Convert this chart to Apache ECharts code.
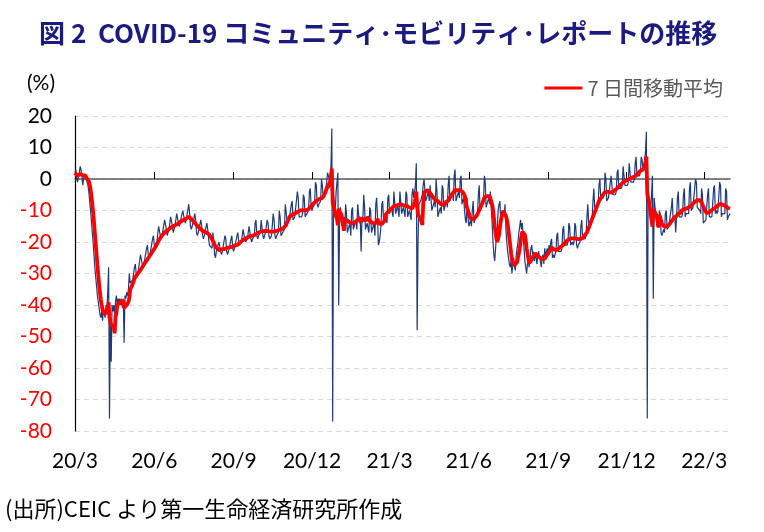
<!DOCTYPE html>
<html>
<head>
<meta charset="utf-8">
<script src="https://cdn.jsdelivr.net/npm/echarts@6/dist/echarts.min.js"></script>
<style>
  html, body { margin: 0; background: #fff; }
  #chart-main { width: 764px; height: 532px; }
</style>
</head>
<body>
<div id="chart-main"></div>
<script>
// 日次の値（2020/3/1 から 1 日ずつ、1 行 = 1 週間）
const startDate = '2020-03-01'
const dailyValues = [
  2, 3, 0, -1, 1, 2, 4, 3, 1, -2, 0, 1, 1, 0,
  -1, -2, -4, -7, -10, -13, -17,
  -20, -24, -28, -31, -34, -37, -39,
  -41, -43, -44, -42, -45, -41, -43,
  -44, -40, -42, -36, -28, -76, -44,
  -58, -40, -42, -40, -43, -39, -37,
  -40, -38, -39, -38, -40, -38, -41,
  -38, -52, -37, -38, -36, -37, -35,
  -30, -33, -33, -33, -32, -32, -28,
  -27, -30, -31, -30, -30, -30, -24,
  -24, -27, -28, -27, -27, -27, -22,
  -21, -24, -25, -24, -24, -24, -19,
  -18, -21, -22, -21, -20, -20, -15,
  -15, -18, -19, -18, -18, -18, -13,
  -13, -16, -18, -17, -16, -16, -12,
  -12, -15, -17, -16, -15, -15, -11,
  -11, -14, -15, -14, -14, -14, -10,
  -10, -13, -14, -13, -13, -13, -8,
  -11, -15, -16, -15, -15, -15, -11,
  -13, -17, -18, -17, -17, -17, -13,
  -15, -18, -19, -18, -18, -18, -14,
  -16, -19, -21, -21, -21, -22, -17,
  -20, -24, -25, -23, -23, -23, -20,
  -20, -23, -24, -23, -23, -23, -18,
  -19, -23, -24, -23, -22, -22, -19,
  -18, -22, -23, -22, -22, -22, -18,
  -17, -20, -21, -21, -20, -20, -16,
  -16, -19, -20, -20, -19, -19, -15,
  -15, -19, -20, -19, -19, -18, -14,
  -13, -18, -19, -18, -18, -17, -13,
  -13, -18, -19, -18, -17, -17, -13,
  -14, -18, -19, -19, -18, -18, -11,
  -13, -18, -19, -18, -18, -17, -10,
  -12, -18, -18, -17, -17, -16, -8,
  -8, -13, -14, -13, -12, -12, -8,
  -7, -13, -13, -12, -12, -12, -4,
  -6, -12, -12, -12, -12, -11, -5,
  -6, -12, -12, -11, -11, -10, -4,
  -3, -9, -10, -9, -9, -8, -1,
  -2, -8, -9, -8, -8, -7, 0,
  -2, -6, -5, -4, -3, -1, 2,
  1, 0, 1, 4, 16, -77, -5,
  -8, -10, -4, -1, 2, -40, -12,
  -9, -14, -15, -13, -12, -16, -8,
  -11, -17, -16, -15, -14, -18, -10,
  -9, -16, -15, -14, -13, -16, -8,
  -8, -14, -13, -23, -12, -13, -5,
  -9, -16, -15, -14, -14, -17, -9,
  -10, -17, -16, -15, -14, -18, -8,
  -6, -12, -21, -20, -18, -15, -8,
  -7, -13, -12, -11, -11, -14, -6,
  -5, -11, -10, -9, -9, -12, -4,
  -4, -11, -10, -8, -8, -12, -4,
  -4, -11, -10, -9, -9, -12, -4,
  -5, -12, -11, -10, -10, -13, -5,
  -3, -6, -4, -2, 5, -48, -20,
  -8, -8, -7, -6, -5, -2, 0,
  0, -7, -6, -5, -4, -7, -2,
  -2, -10, -9, -8, -7, -9, 0,
  -4, -12, -11, -10, -9, -11, -2,
  -3, -10, -9, -8, -7, -9, -2,
  1, -7, -6, -5, -4, -7, 1,
  3, -7, -6, -5, -4, -6, 0,
  1, -8, -7, -6, -10, -13, -14,
  -6, -12, -15, -14, -13, -15, -10,
  -7, -14, -13, -12, -11, -12, -5,
  -2, -10, -9, -8, -6, -7, 1,
  -1, -9, -8, -7, -6, -8, -4,
  -9, -14, -20, -24, -26, -22, -18,
  -16, -10, -8, -7, -13, -12, -11,
  -10, -12, -8, -16, -20, -23, -25,
  -27, -28, -26, -30, -27, -25, -28,
  -29, -24, -22, -20, -17, -15, -13,
  -16, -14, -18, -22, -26, -28, -30,
  -27, -26, -28, -25, -22, -21, -24,
  -23, -26, -24, -25, -27, -24, -23,
  -25, -26, -28, -25, -24, -27, -22,
  -25, -23, -22, -24, -21, -23, -20,
  -19, -25, -24, -25, -24, -23, -18,
  -17, -23, -23, -23, -23, -22, -16,
  -15, -21, -21, -21, -21, -20, -14,
  -15, -21, -21, -20, -21, -20, -14,
  -15, -21, -22, -21, -21, -20, -15,
  -13, -19, -19, -19, -19, -18, -12,
  -8, -14, -14, -14, -14, -13, -7,
  -3, -9, -9, -9, -9, -8, -2,
  0, -6, -6, -6, -6, -5, 2,
  0, -7, -7, -6, -6, -6, 1,
  1, -5, -5, -5, -5, -4, 2,
  3, -3, -3, -3, -3, -2, 4,
  4, -2, -2, -2, -2, -1, 5,
  5, -1, -1, -1, -1, 0, 5,
  7, 1, 1, 1, 1, 2, 7,
  6, 3, 4, 6, 9, 15, -76,
  -3, -6, -8, -9, -5, 1, -38,
  -6, -9, -11, -15, -14, -15, -10,
  -11, -17, -18, -17, -16, -17, -11,
  -10, -16, -16, -15, -15, -15, -9,
  -6, -13, -13, -12, -17, -12, -6,
  -4, -12, -12, -12, -12, -11, -5,
  -3, -12, -11, -11, -11, -11, -3,
  -1, -10, -10, -9, -9, -9, 0,
  -1, -9, -9, -9, -10, -11, -3,
  -5, -14, -14, -14, -13, -13, -5,
  -3, -12, -12, -12, -12, -12, -3,
  -2, -11, -10, -11, -10, -10, -1,
  -2, -12, -11, -11, -11, -11, -3,
  -4, -13, -12, -12, -11
]

const tickDates = ['2020-03-01', '2020-06-01', '2020-09-01', '2020-12-01', '2021-03-01',
  '2021-06-01', '2021-09-01', '2021-12-01', '2022-03-01']
const tickLabels = ['20/3', '20/6', '20/9', '20/12', '21/3', '21/6', '21/9', '21/12', '22/3']

// 日付の並び
const dates = dailyValues.map((_, i) => {
  const [y, m, d] = startDate.split('-').map(Number)
  return new Date(Date.UTC(y, m - 1, d + i)).toISOString().slice(0, 10)
})

// 7日間の後方移動平均
const avgValues = dailyValues.map((_, i) => {
  const win = dailyValues.slice(Math.max(0, i - 6), i + 1)
  return +(win.reduce((a, b) => a + b, 0) / win.length).toFixed(2)
})

const isTick = (idx, value) => tickDates.includes(value)
const labelFont = 'Lato, "Noto Sans", sans-serif'
const jpFont = '"Noto Sans CJK JP", sans-serif'

const myChart = echarts.init(document.getElementById('chart-main'))
myChart.setOption({
  animation: false,
  title: {
    text: '図 2  COVID-19 コミュニティ･モビリティ･レポートの推移',
    left: 34,
    top: 15,
    textStyle: { fontFamily: jpFont, fontSize: 26, fontWeight: 'bold', color: '#1a1a80' }
  },
  legend: {
    data: ['7 日間移動平均'],
    right: 36,
    top: 73,
    icon: 'rect',
    itemWidth: 38,
    itemHeight: 3,
    itemGap: 8,
    textStyle: { fontFamily: jpFont, fontSize: 20, color: '#595959' }
  },
  graphic: [
    {
      type: 'text', left: 27, top: 73,
      style: { text: '(%)', font: '21px Lato', fill: '#000' }
    },
    {
      type: 'text', left: 5, top: 498,
      style: { text: '(出所)CEIC より第一生命経済研究所作成', font: '22px "Noto Sans CJK JP"', fill: '#000' }
    }
  ],
  grid: { left: 75, right: 34, top: 116, bottom: 101, outerBoundsMode: 'none' },
  xAxis: [
    {
      type: 'category',
      data: dates,
      boundaryGap: false,
      position: 'bottom',
      axisLine: { show: false, onZero: false },
      axisTick: { show: false },
      splitLine: { show: false },
      axisLabel: {
        interval: isTick,
        formatter: (v) => tickLabels[tickDates.indexOf(v)],
        margin: 20,
        fontFamily: labelFont,
        fontSize: 21,
        color: '#000'
      }
    },
    {
      type: 'category',
      data: dates,
      boundaryGap: false,
      position: 'bottom',
      axisLine: { onZero: true, lineStyle: { color: '#595959', width: 1.5 } },
      axisTick: { inside: true, length: 7, interval: isTick, lineStyle: { color: '#000', width: 1 } },
      axisLabel: { show: false },
      splitLine: { show: false }
    }
  ],
  yAxis: {
    type: 'value',
    min: -80,
    max: 20,
    interval: 10,
    axisLine: { show: true, lineStyle: { color: '#000', width: 1.2 } },
    axisTick: { show: false },
    axisLabel: {
      margin: 23,
      fontFamily: labelFont,
      fontSize: 21,
      color: (v) => (Number(v) < 0 ? '#ff0000' : '#000')
    },
    splitLine: { lineStyle: { color: '#d9d9d9', width: 1, type: [5, 4] } }
  },
  series: [
    {
      name: '日次',
      type: 'line',
      data: dailyValues,
      showSymbol: false,
      lineStyle: { color: '#1f3a7a', width: 1.2 },
      z: 2
    },
    {
      name: '7 日間移動平均',
      type: 'line',
      data: avgValues,
      showSymbol: false,
      lineStyle: { color: '#ff0000', width: 3.8 },
      itemStyle: { color: '#ff0000' },
      z: 3
    }
  ]
})
</script>
</body>
</html>
